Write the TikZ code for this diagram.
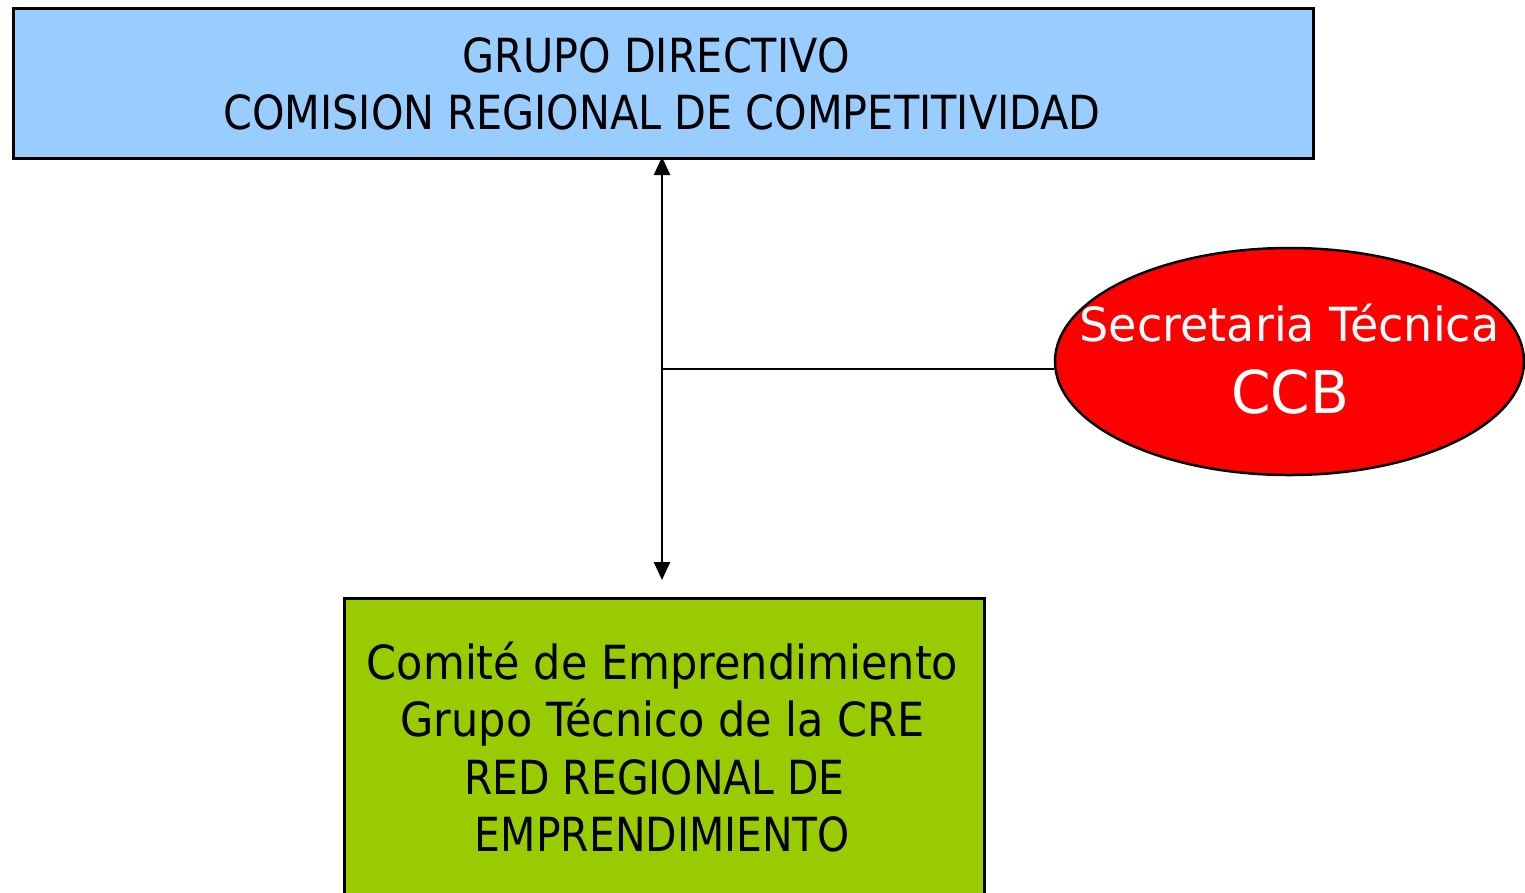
\documentclass[tikz,border=0pt]{standalone}
\usepackage{fontspec}
\setmainfont{DejaVu Sans}
\newfontfamily\topfont[FakeStretch=0.88]{DejaVu Sans}
\newfontfamily\greenfont[FakeStretch=0.915]{DejaVu Sans}
\newfontfamily\greencapsfont[FakeStretch=0.87]{DejaVu Sans}
\newfontfamily\secfont[FakeStretch=0.98]{DejaVu Sans}
\newfontfamily\ccbfont[FakeStretch=0.96]{DejaVu Sans}
\usetikzlibrary{shapes.geometric,arrows.meta}
\definecolor{topblue}{HTML}{99CCFF}
\definecolor{boxgreen}{HTML}{99CC00}
\definecolor{ellred}{HTML}{FF0000}
\begin{document}
\begin{tikzpicture}[x=1pt,y=-1pt,
  boxstyle/.style={draw=black,line width=2.5pt},
  toptxt/.style={anchor=base,inner sep=0pt,font=\topfont\fontsize{47}{50}\selectfont},
  greentxt/.style={anchor=base,inner sep=0pt,font=\greenfont\fontsize{47}{50}\selectfont},
  greencaps/.style={anchor=base,inner sep=0pt,font=\greencapsfont\fontsize{47}{50}\selectfont},
  link/.style={line width=2.5pt},
  tip/.style={-{Triangle[length=18pt,width=16pt]}}]
\useasboundingbox (0,0) rectangle (1525,892);
\fill[white] (0,0) rectangle (1525,892);
\node[boxstyle,fill=topblue,minimum width=1300pt,minimum height=150pt,anchor=north west] (top) at (12,7) {};
\node[toptxt] (t1) at (656,72) {GRUPO DIRECTIVO};
\node[toptxt] (t2) at (662,129) {COMISION REGIONAL DE COMPETITIVIDAD};
\node[boxstyle,fill=boxgreen,minimum width=640pt,minimum height=320pt,anchor=north west] (green) at (343,597) {};
\node[greentxt] (g1) at (662.5,679) {Comité de Emprendimiento};
\node[greentxt] (g2) at (662.5,736.5) {Grupo Técnico de la CRE};
\node[greencaps] (g3) at (654.5,794) {RED REGIONAL DE};
\node[greencaps] (g4) at (662.5,851) {EMPRENDIMIENTO};
\node[ellipse,draw=black,line width=2.5pt,fill=ellred,minimum width=469pt,minimum height=227pt,inner sep=0pt] (sec) at (1289.5,361.5) {};
\node[anchor=base,inner sep=0pt,text=white,font=\secfont\fontsize{47}{50}\selectfont] (s1) at (1289.5,341.5) {Secretaria Técnica};
\node[anchor=base,inner sep=0pt,text=white,font=\ccbfont\fontsize{59}{60}\selectfont] (s2) at (1290,413) {CCB};
\coordinate (junc) at (662,369);
\coordinate (topend) at (662,157);
\coordinate (botend) at (662,580);
\draw[link,tip] (junc) -- (topend);
\draw[link,tip] (junc) -- (botend);
\draw[link] (junc) -- (junc -| sec.west);
\end{tikzpicture}
\end{document}
